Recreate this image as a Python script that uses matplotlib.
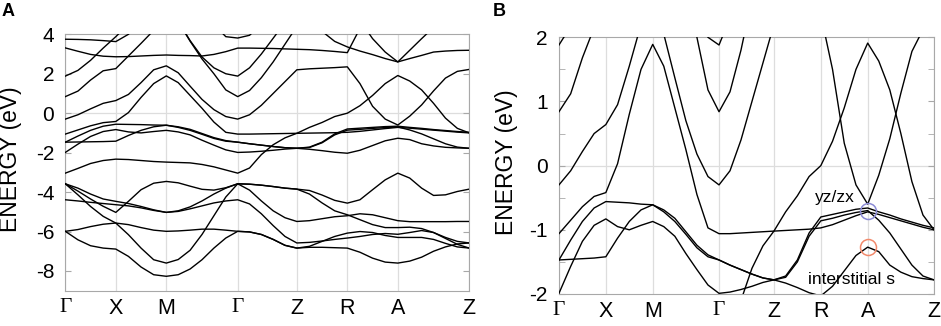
import numpy as np
import matplotlib
matplotlib.use("Agg")
import matplotlib.pyplot as plt

plt.rcParams['font.family'] = ['Liberation Sans', 'DejaVu Sans']
plt.rcParams['axes.unicode_minus'] = False

# ---------------- data ----------------
kpoint_labels = ['Γ', 'X', 'M', 'Γ', 'Z', 'R', 'A', 'Z']
kpoint_pos = [0.0, 1.0, 2.0, 3.414, 4.585, 5.585, 6.585, 8.0]
samples_per_segment = [4, 4, 6, 5, 4, 4, 6]

yticks_A = [4, 2, 0, -2, -4, -6, -8]
ytick_labels_A = ['4', '2', '0', '-2', '-4', '-6', '-8']
yticks_B = [2, 1, 0, -1, -2]
ytick_labels_B = ['2', '1', '0', '-1', '-2']
yminor_B = [1.5, 0.5, -0.5, -1.5]

# band energies (eV) sampled along the path (34 points each)
band_T1 = [3.75, 3.74, 3.72, 3.68, 3.63, 4.0, 4.6, 5.0, 5.0,
           5.0, 5.0, 5.0, 4.5, 3.88, 3.81, 3.95, 4.5, 5.0, 5.0, 5.0,
           5.0, 5.0, 5.0, 5.0, 5.0, 5.0, 5.0, 5.0,
           5.0, 5.0, 5.0, 5.0, 5.0, 5.0]
band_T2 = [3.31, 3.14, 2.98, 2.89, 2.86, 2.87, 2.9, 2.93, 2.95,
           2.93, 2.92, 2.9, 2.98, 3.12, 3.3, 3.3, 3.29, 3.28, 3.26, 3.24,
           3.22, 3.18, 3.13, 3.07, 4.3, 5.0, 5.0, 5.0,
           5.0, 5.0, 5.0, 5.0, 5.0, 5.0]
band_T5 = [5.0, 5.0, 5.0, 5.0, 5.0, 5.0, 5.0, 5.0, 5.0,
           5.0, 5.0, 5.0, 5.0, 5.0, 5.0, 5.0, 5.0, 5.0, 5.0, 5.0,
           4.7, 4.15, 3.64, 3.36, 3.15, 2.97, 2.77, 2.6,
           2.77, 2.93, 3.1, 3.15, 3.18, 3.19]
band_T6 = [5.0, 5.0, 5.0, 5.0, 5.0, 5.0, 5.0, 5.0, 5.0,
           5.0, 5.0, 5.0, 5.0, 5.0, 5.0, 5.0, 5.0, 5.0, 5.0, 5.0,
           5.0, 5.0, 5.0, 5.0, 4.7, 3.78, 3.1, 2.6,
           3.19, 3.78, 4.35, 5.0, 5.0, 5.0]
band_C = [1.88, 2.17, 2.68, 3.3, 3.88, 4.5, 5.0, 5.0, 5.0,
          4.65, 3.68, 2.85, 2.3, 2.0, 1.88, 2.3, 3.0, 3.8, 4.6, 5.0,
          5.0, 5.0, 5.0, 5.0, 5.0, 5.0, 5.0, 5.0,
          5.0, 5.0, 5.0, 5.0, 5.0, 5.0]
band_D = [0.84, 1.12, 1.68, 2.15, 2.26, 2.9, 3.54, 4.2, 5.0,
          4.65, 3.65, 2.75, 2.0, 1.18, 0.84, 1.15, 1.8, 2.6, 3.5, 4.4,
          5.0, 5.0, 5.0, 5.0, 5.0, 5.0, 5.0, 5.0,
          5.0, 5.0, 5.0, 5.0, 5.0, 5.0]
band_E = [-0.30, -0.08, 0.22, 0.50, 0.64, 0.95, 1.55, 2.2, 2.4,
          2.05, 1.37, 0.7, 0.18, -0.17, -0.30, -0.08, 0.40, 1.0, 1.6, 2.2,
          2.25, 2.28, 2.31, 2.35, 1.5, 0.35, -0.3, -0.6,
          -0.15, 0.42, 1.13, 1.78, 2.12, 2.22]
band_F = [-1.06, -0.85, -0.64, -0.48, -0.42, 0.03, 0.8, 1.5, 1.89,
          1.55, 0.9, 0.25, -0.45, -0.97, -1.06, -1.06, -1.05, -1.04, -1.03, -1.02,
          -1.01, -1.0, -0.99, -0.97, -0.92, -0.85, -0.78, -0.72,
          -0.76, -0.81, -0.86, -0.91, -0.96, -1.0]
band_G = [-3.04, -2.8, -2.55, -2.4, -2.33, -2.35, -2.4, -2.45, -2.48,
          -2.5, -2.52, -2.6, -2.72, -2.88, -3.04, -2.78, -2.1, -1.6, -1.25, -1.02,
          -0.72, -0.47, -0.17, 0.0, 0.38, 0.9, 1.5, 1.91,
          1.63, 1.18, 0.5, -0.25, -0.77, -1.0]
band_H2 = [-1.47, -1.16, -0.87, -0.66, -0.56, -0.57, -0.58, -0.60, -0.61,
           -0.69, -0.82, -1.03, -1.24, -1.39, -1.47, -1.55, -1.62, -1.69, -1.75, -1.78,
           -1.72, -1.47, -1.05, -0.80, -0.76, -0.72, -0.68, -0.66,
           -0.72, -0.77, -0.83, -0.88, -0.93, -0.97]
band_H3 = [-1.47, -1.46, -1.45, -1.44, -1.42, -1.13, -0.87, -0.69, -0.61,
           -0.72, -0.87, -1.07, -1.28, -1.42, -1.47, -1.55, -1.62, -1.69, -1.75, -1.78,
           -1.74, -1.5, -1.1, -0.86, -0.82, -0.77, -0.73, -0.70,
           -0.85, -1.05, -1.3, -1.55, -1.72, -1.78]
band_H4 = [-1.99, -1.57, -1.18, -0.93, -0.83, -0.95, -1.0, -0.93, -0.87,
           -0.95, -1.1, -1.37, -1.62, -1.86, -1.99, -1.97, -1.93, -1.88, -1.82, -1.78,
           -1.83, -1.9, -1.98, -2.03, -1.88, -1.64, -1.4, -1.27,
           -1.34, -1.55, -1.66, -1.73, -1.76, -1.78]
band_L1 = [-3.58, -3.95, -4.35, -4.72, -5.03, -4.47, -3.88, -3.55, -3.46,
           -3.53, -3.7, -3.86, -3.9, -3.78, -3.58, -3.6, -3.65, -3.72, -3.8, -3.85,
           -3.92, -4.15, -4.42, -4.56, -4.39, -3.88, -3.38, -3.04,
           -3.29, -3.8, -4.17, -4.14, -3.97, -3.85]
band_L2 = [-3.58, -3.8, -4.1, -4.35, -4.47, -4.58, -4.73, -4.9, -5.03,
           -4.95, -4.75, -4.45, -4.1, -3.8, -3.58, -3.6, -3.65, -3.72, -3.8, -3.85,
           -4.1, -4.55, -4.95, -5.15, -5.4, -5.65, -5.8, -5.8,
           -5.78, -5.85, -6.05, -6.3, -6.5, -6.58]
band_L3 = [-3.58, -4.14, -4.73, -5.23, -5.57, -6.16, -6.84, -7.43, -7.6,
           -7.42, -6.95, -6.15, -5.2, -4.25, -3.58, -3.9, -4.45, -4.95, -5.3, -5.49,
           -5.45, -5.35, -5.25, -5.2, -5.1, -5.15, -5.3, -5.45,
           -5.5, -5.5, -5.5, -5.5, -5.49, -5.49]
band_L4 = [-4.39, -4.45, -4.52, -4.58, -4.64, -4.7, -4.8, -4.93, -5.03,
           -4.98, -4.85, -4.7, -4.55, -4.45, -4.39, -4.6, -5.1, -5.7, -6.25, -6.58,
           -6.55, -6.48, -6.4, -6.33, -6.25, -6.15, -6.1, -6.14,
           -6.05, -5.95, -6.05, -6.35, -6.65, -6.84]
band_L5 = [-5.99, -5.9, -5.75, -5.63, -5.57, -5.65, -5.8, -5.93, -5.99,
           -5.97, -5.93, -5.88, -5.88, -5.93, -5.99, -6.02, -6.15, -6.4, -6.7, -6.84,
           -6.75, -6.5, -6.25, -6.08, -6.0, -6.05, -6.2, -6.3,
           -6.3, -6.3, -6.4, -6.6, -6.78, -6.84]
band_L6 = [-5.99, -6.42, -6.72, -6.84, -6.89, -7.26, -7.8, -8.19, -8.27,
           -8.19, -7.9, -7.43, -6.84, -6.33, -5.99, -6.02, -6.15, -6.4, -6.7, -6.84,
           -6.8, -6.8, -6.82, -6.84, -7.05, -7.35, -7.55, -7.6,
           -7.5, -7.3, -7.0, -6.78, -6.63, -6.58]

highlight_E = [-0.70, -1.27]          # circled states at A (panel B)
highlight_colors = ['#8c8cd6', '#f28a6c']

all_bands = [band_T1, band_T2, band_T5, band_T6, band_C, band_D, band_E,
             band_F, band_G, band_H2, band_H3, band_H4,
             band_L1, band_L2, band_L3, band_L4, band_L5, band_L6]

# ---------------- k axis ----------------
k = [kpoint_pos[0]]
for i, n in enumerate(samples_per_segment):
    k.extend(np.linspace(kpoint_pos[i], kpoint_pos[i + 1], n + 1)[1:])
k = np.array(k)

# ---------------- figure ----------------
fig = plt.figure(figsize=(9.41, 3.26), dpi=100)
axA = fig.add_axes([0.0694, 0.1083, 0.4293, 0.7865])
axB = fig.add_axes([0.5940, 0.0982, 0.3986, 0.7874])

frame_col = '#a8a8a8'
grid_col = '#dddddd'


def style(ax, ylim, yt, ytl, yminor=None):
    for b in all_bands:
        ax.plot(k, b, color='black', lw=1.0, solid_joinstyle='round', zorder=3)
    ax.set_xlim(kpoint_pos[0], kpoint_pos[-1])
    ax.set_ylim(*ylim)
    ax.set_xticks(kpoint_pos)
    ax.set_xticklabels(kpoint_labels, fontsize=15.5)
    for lbl in ax.get_xticklabels():
        if lbl.get_text() == 'Γ':
            lbl.set_fontfamily(['Liberation Serif', 'DejaVu Serif'])
    ax.set_yticks(yt)
    ax.set_yticklabels(ytl, fontsize=15)
    if yminor is not None:
        ax.set_yticks(yminor, minor=True)
    ax.grid(axis='x', color=grid_col, lw=0.9, zorder=0)
    ax.axhline(0, color=grid_col, lw=0.9, zorder=1)
    ax.tick_params(axis='x', length=0, pad=5)
    ax.tick_params(axis='y', which='both', direction='in', length=4,
                   color=frame_col, right=True, pad=8)
    for sp in ax.spines.values():
        sp.set_color(frame_col)
        sp.set_linewidth(0.8)


style(axA, (-9, 4), yticks_A, ytick_labels_A)
style(axB, (-2, 2), yticks_B, ytick_labels_B, yminor_B)

for e, c in zip(highlight_E, highlight_colors):
    axB.plot([kpoint_pos[6]], [e], marker='o', ms=11.5, mfc='none', mec=c,
             mew=1.1, zorder=4)

axB.text(6.31, -0.56, 'yz/zx', ha='right', va='baseline', fontsize=12.5, zorder=5)
axB.text(6.24, -1.84, 'interstitial s', ha='center', va='baseline', fontsize=12.5, zorder=5)

fig.text(11 / 941, 0.512, 'ENERGY (eV)', rotation=90, ha='center', va='center', fontsize=16.5)
fig.text(506.5 / 941, 0.503, 'ENERGY (eV)', rotation=90, ha='center', va='center', fontsize=16.5)

fig.text(0.002, 0.99, 'A', fontweight='bold', fontsize=13, ha='left', va='top')
fig.text(493 / 941, 0.99, 'B', fontweight='bold', fontsize=13, ha='left', va='top')

fig.savefig('out.png', dpi=100)
